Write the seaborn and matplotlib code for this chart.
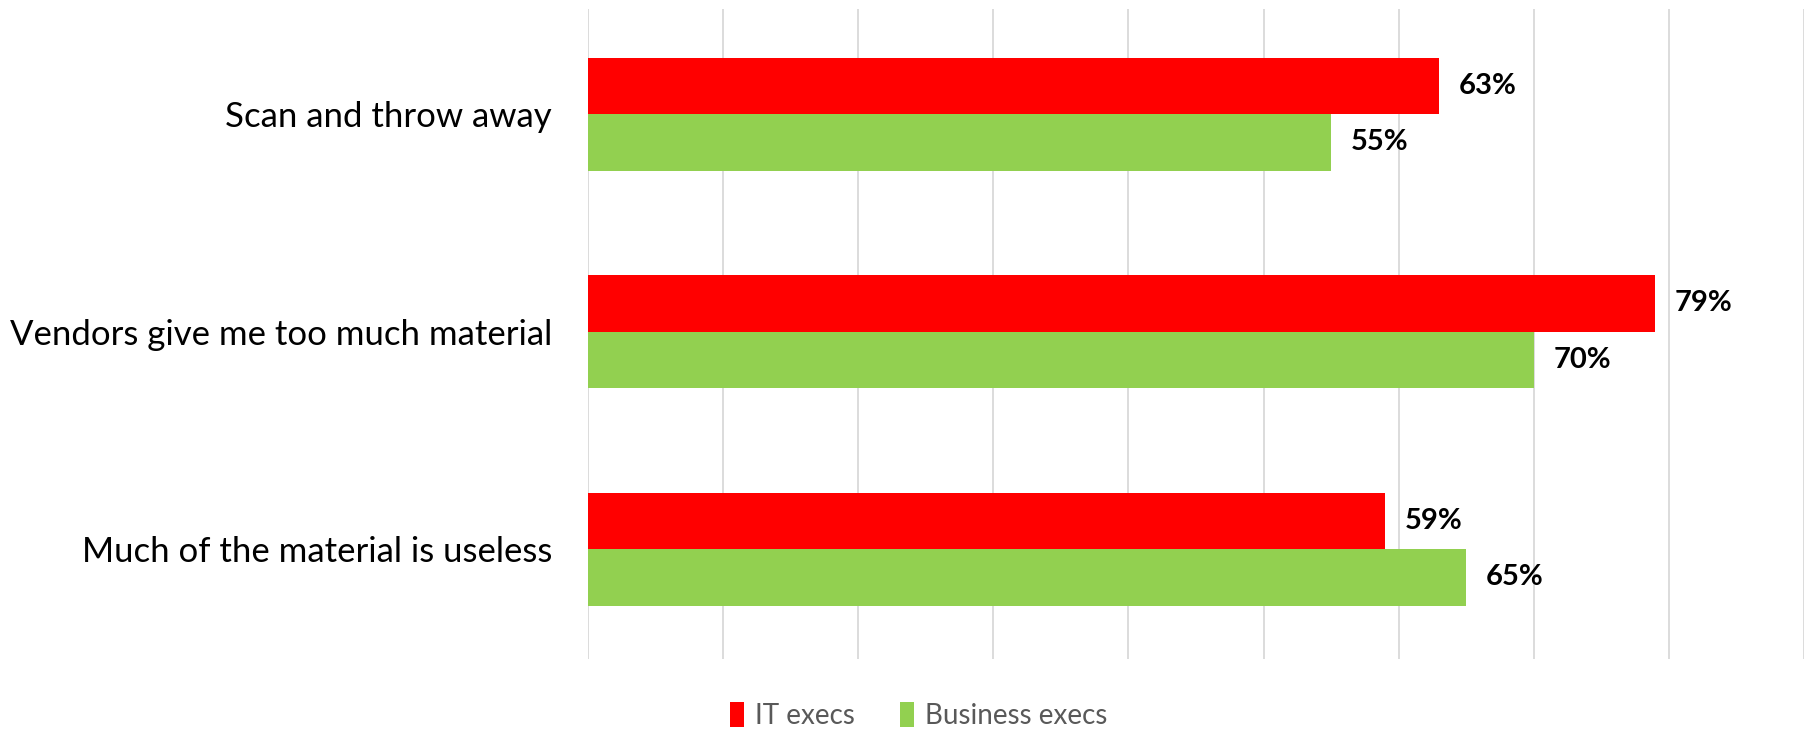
import matplotlib
matplotlib.use("Agg")
import matplotlib.pyplot as plt
import seaborn as sns
import pandas as pd

categories = ["Scan and throw away", "Vendors give me too much material", "Much of the material is useless"]
it_execs = [63, 79, 59]
business_execs = [55, 70, 65]
series_names = ["IT execs", "Business execs"]
colors = ["#FF0000", "#92D050"]
x_ticks = [0, 10, 20, 30, 40, 50, 60, 70, 80, 90]

df = pd.DataFrame({
    "category": categories * 2,
    "value": it_execs + business_execs,
    "series": [series_names[0]] * 3 + [series_names[1]] * 3,
})

sns.set_theme(style="white")
plt.rcParams["font.family"] = ["Lato", "DejaVu Sans"]

fig = plt.figure(figsize=(18.12, 7.30), dpi=100)
ax = fig.add_axes([588 / 1812, 1 - 659 / 730, (1804 - 588) / 1812, (659 - 9) / 730])

sns.barplot(data=df, y="category", x="value", hue="series", order=categories,
            hue_order=series_names, palette=colors, width=0.52, orient="h",
            saturation=1, linewidth=0, ax=ax, legend=True)

ax.set_xlim(0, 90)
ax.set_ylim(2.505, -0.483)
ax.set_xticks(x_ticks)
ax.set_xticklabels([])
ax.xaxis.grid(True, color="#D9D9D9", linewidth=1.3)
ax.set_axisbelow(True)
ax.tick_params(axis="x", length=0)
ax.tick_params(axis="y", length=0, labelsize=25, labelcolor="black", pad=26)
ax.set_xlabel("")
ax.set_ylabel("")
for s in ax.spines.values():
    s.set_visible(False)

for cont in ax.containers:
    ax.bar_label(cont, labels=[f"{v:.0f}%" for v in cont.datavalues], padding=14,
                 fontsize=21, fontweight="bold", color="black")

handles, labels = ax.get_legend_handles_labels()
ax.get_legend().remove()
fig.legend(handles, labels, loc="center", bbox_to_anchor=(0.507, 0.02), ncol=2,
           frameon=False, fontsize=20, labelcolor="#595959", handlelength=0.5,
           handleheight=1.0, handletextpad=0.4, columnspacing=1.6)

fig.savefig("out.png", dpi=100)
